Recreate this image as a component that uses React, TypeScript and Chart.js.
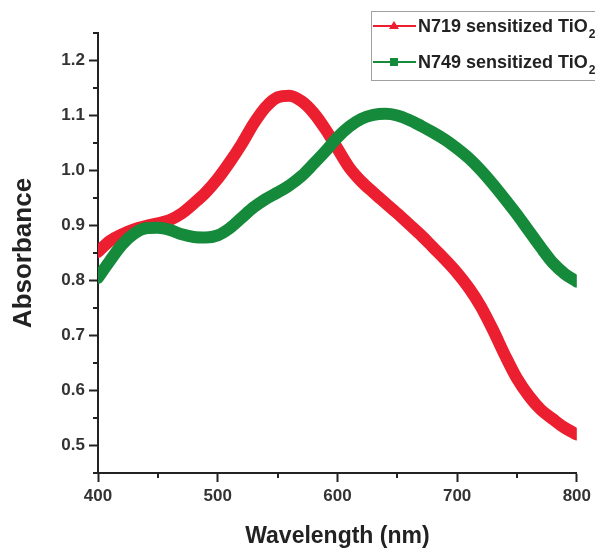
import React, { useEffect, useRef } from "react";
import { Chart, registerables } from "chart.js";

Chart.register(...registerables);

const wavelengths = [400, 410, 420, 430, 440, 450, 460, 470, 480, 490, 500, 510, 520, 530, 540, 550, 560, 570, 580, 590, 600, 610, 620, 630, 640, 650, 660, 670, 680, 690, 700, 710, 720, 730, 740, 750, 760, 770, 780, 790, 800];

const n719 = [0.852, 0.872, 0.884, 0.893, 0.899, 0.904, 0.910, 0.922, 0.940, 0.960, 0.985, 1.015, 1.048, 1.085, 1.115, 1.133, 1.136, 1.126, 1.105, 1.075, 1.040, 1.005, 0.980, 0.960, 0.941, 0.922, 0.902, 0.882, 0.860, 0.838, 0.814, 0.786, 0.752, 0.710, 0.664, 0.622, 0.590, 0.565, 0.548, 0.532, 0.520];

const n749 = [0.805, 0.836, 0.865, 0.885, 0.895, 0.896, 0.892, 0.884, 0.879, 0.878, 0.882, 0.895, 0.914, 0.933, 0.948, 0.960, 0.973, 0.990, 1.012, 1.035, 1.060, 1.080, 1.094, 1.101, 1.103, 1.100, 1.092, 1.081, 1.069, 1.056, 1.040, 1.022, 1.000, 0.975, 0.948, 0.920, 0.890, 0.860, 0.832, 0.812, 0.798];

const seriesLabels = ["N719 sensitized TiO", "N749 sensitized TiO"];
const seriesColors = ["#ec1f30", "#168a3b"];
const xTicks = [400, 500, 600, 700, 800];
const yTicks = [0.5, 0.6, 0.7, 0.8, 0.9, 1.0, 1.1, 1.2];
const xMinorTicks = [450, 550, 650, 750];
const yMinorTicks = [0.45, 0.55, 0.65, 0.75, 0.85, 0.95, 1.05, 1.15, 1.25];

const FONT = "'Liberation Sans', Arial, sans-serif";

const extrasPlugin = {
  id: "extras",
  afterDraw(chart: any) {
    const ctx = chart.ctx;
    const xs = chart.scales.x;
    const ys = chart.scales.y;
    ctx.save();
    ctx.strokeStyle = "#222";
    ctx.lineWidth = 2;
    xMinorTicks.forEach((v) => {
      const px = Math.round(xs.getPixelForValue(v));
      ctx.beginPath();
      ctx.moveTo(px, ys.bottom);
      ctx.lineTo(px, ys.bottom + 5);
      ctx.stroke();
    });
    yMinorTicks.forEach((v) => {
      const py = Math.round(ys.getPixelForValue(v));
      ctx.beginPath();
      ctx.moveTo(xs.left, py);
      ctx.lineTo(xs.left - 5, py);
      ctx.stroke();
    });
    // legend
    ctx.lineWidth = 1;
    ctx.strokeStyle = "#a0a0a0";
    ctx.strokeRect(371.5, 11.5, 240, 69);
    const rows = [26, 62];
    rows.forEach((ry, i) => {
      const col = seriesColors[i];
      ctx.strokeStyle = col;
      ctx.lineWidth = 2;
      ctx.beginPath();
      ctx.moveTo(373, ry);
      ctx.lineTo(416, ry);
      ctx.stroke();
      ctx.fillStyle = col;
      const mx = 394;
      if (i === 0) {
        ctx.beginPath();
        ctx.moveTo(mx, ry - 5);
        ctx.lineTo(mx + 5, ry + 3);
        ctx.lineTo(mx - 5, ry + 3);
        ctx.closePath();
        ctx.fill();
      } else {
        ctx.fillRect(mx - 4, ry - 4, 8, 8);
      }
      ctx.fillStyle = "#222";
      ctx.font = "bold 18px " + FONT;
      ctx.textBaseline = "middle";
      ctx.textAlign = "left";
      const txt = seriesLabels[i];
      ctx.fillText(txt, 418, ry + 1);
      const w = ctx.measureText(txt).width;
      ctx.font = "bold 12px " + FONT;
      ctx.fillText("2", 418 + w + 1, ry + 9);
    });
    ctx.restore();
  },
};

export default function App() {
  const ref = useRef<HTMLCanvasElement | null>(null);
  useEffect(() => {
    if (!ref.current) return;
    Chart.defaults.font.family = FONT;
    const mk = (vals: number[]) => wavelengths.map((x, i) => ({ x, y: vals[i] }));
    const chart = new Chart(ref.current, {
      type: "line",
      data: {
        datasets: [
          {
            label: seriesLabels[0],
            data: mk(n719),
            borderColor: seriesColors[0],
            backgroundColor: seriesColors[0],
            borderWidth: 12,
            pointRadius: 0,
            tension: 0.4,
            cubicInterpolationMode: "monotone",
            borderCapStyle: "round",
            borderJoinStyle: "round",
            order: 1,
          },
          {
            label: seriesLabels[1],
            data: mk(n749),
            borderColor: seriesColors[1],
            backgroundColor: seriesColors[1],
            borderWidth: 12,
            pointRadius: 0,
            tension: 0.4,
            cubicInterpolationMode: "monotone",
            borderCapStyle: "round",
            borderJoinStyle: "round",
            order: 0,
          },
        ],
      },
      options: {
        responsive: false,
        animation: false,
        layout: { padding: { left: 0, top: 33, right: 18, bottom: 0 } },
        plugins: { legend: { display: false }, tooltip: { enabled: false } },
        scales: {
          x: {
            type: "linear",
            min: 400,
            max: 800,
            afterFit: (s: any) => {
              s.height = 79;
            },
            afterBuildTicks: (s: any) => {
              s.ticks = xTicks.map((v) => ({ value: v }));
            },
            ticks: {
              color: "#333",
              font: { size: 17, weight: "bold" },
              padding: 4,
              maxRotation: 0,
              callback: (v: any) => String(v),
            },
            grid: {
              display: true,
              drawOnChartArea: false,
              drawTicks: true,
              tickLength: 9,
              tickColor: "#222",
              tickWidth: 2,
            },
            border: { display: true, color: "#222", width: 2 },
            title: {
              display: true,
              text: "Wavelength (nm)",
              color: "#222",
              font: { size: 23, weight: "bold" },
              padding: { top: 0, bottom: 2 },
            },
          },
          y: {
            type: "linear",
            min: 0.45,
            max: 1.25,
            afterFit: (s: any) => {
              s.width = 98;
            },
            afterBuildTicks: (s: any) => {
              s.ticks = yTicks.map((v) => ({ value: v }));
            },
            ticks: {
              color: "#333",
              font: { size: 17, weight: "bold" },
              padding: 4,
              callback: (v: any) => Number(v).toFixed(1),
            },
            grid: {
              display: true,
              drawOnChartArea: false,
              drawTicks: true,
              tickLength: 9,
              tickColor: "#222",
              tickWidth: 2,
            },
            border: { display: true, color: "#222", width: 2 },
            title: {
              display: true,
              text: "Absorbance",
              color: "#222",
              font: { size: 26, weight: "bold" },
              padding: { top: 8, bottom: 0 },
            },
          },
        },
      },
      plugins: [extrasPlugin],
    } as any);
    return () => chart.destroy();
  }, []);
  return (
    <div style={{ position: "fixed", left: 0, top: 0, width: 595, height: 552, background: "#fff" }}>
      <canvas ref={ref} width={595} height={552} style={{ display: "block" }} />
    </div>
  );
}
